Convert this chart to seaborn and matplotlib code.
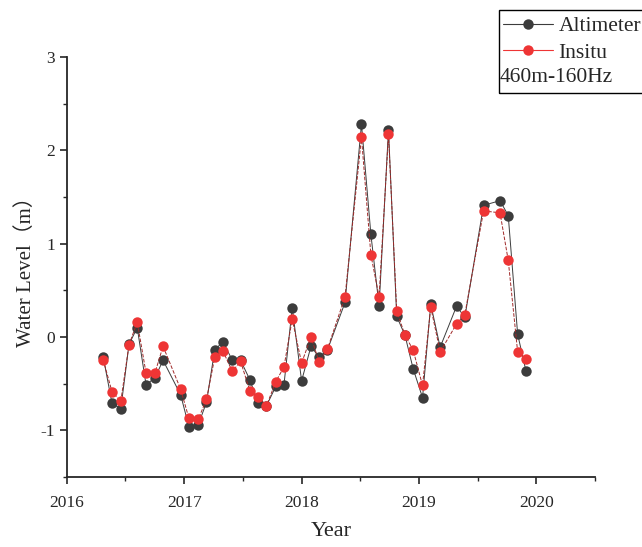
import pandas as pd
import matplotlib.pyplot as plt
import seaborn as sns
from matplotlib.lines import Line2D
from matplotlib.patches import Rectangle
from matplotlib.ticker import MultipleLocator

# decimal year of each pass
years = [2016.31, 2016.385, 2016.46, 2016.53, 2016.60, 2016.675, 2016.75, 2016.82,
         2016.97, 2017.04, 2017.12, 2017.19, 2017.26, 2017.33, 2017.41, 2017.48,
         2017.56, 2017.63, 2017.70, 2017.78, 2017.85, 2017.92, 2018.00, 2018.08,
         2018.15, 2018.22, 2018.37, 2018.51, 2018.59, 2018.66, 2018.74, 2018.81,
         2018.88, 2018.95, 2019.03, 2019.10, 2019.18, 2019.32, 2019.39, 2019.55,
         2019.69, 2019.76, 2019.84, 2019.91]
altimeter = [-0.21, -0.71, -0.77, -0.08, 0.10, -0.51, -0.44, -0.25,
             -0.62, -0.96, -0.94, -0.70, -0.14, -0.05, -0.25, -0.25,
             -0.46, -0.71, -0.74, -0.53, -0.51, 0.31, -0.47, -0.10,
             -0.22, -0.14, 0.37, 2.28, 1.10, 0.33, 2.22, 0.22,
             0.02, -0.34, -0.65, 0.35, -0.11, 0.33, 0.21, 1.41,
             1.46, 1.30, 0.03, -0.36]
insitu = [-0.245, -0.585, -0.69, -0.085, 0.16, -0.385, -0.39, -0.10,
          -0.56, -0.87, -0.88, -0.67, -0.22, -0.15, -0.37, -0.26,
          -0.58, -0.64, -0.74, -0.48, -0.32, 0.19, -0.28, 0.0,
          -0.27, -0.13, 0.43, 2.14, 0.88, 0.43, 2.17, 0.28,
          0.02, -0.14, -0.52, 0.32, -0.16, 0.14, 0.24, 1.35,
          1.33, 0.82, -0.16, -0.24]

df = pd.DataFrame({"Year": years, "Altimeter": altimeter, "Insitu": insitu})

sns.set_style("ticks")
plt.rcParams["font.family"] = ["Liberation Serif", "Noto Sans CJK SC"]
plt.rcParams["axes.unicode_minus"] = False

fig = plt.figure(figsize=(6.42, 5.47), dpi=100)
ax = fig.add_axes([0.104, 0.128, 0.823, 0.768])

black = "#3c3c3c"
red = "#ee3535"
sns.lineplot(data=df, x="Year", y="Altimeter", ax=ax, color=black, lw=0.7,
             marker="o", markersize=7.5, markeredgewidth=0, zorder=2)
sns.lineplot(data=df, x="Year", y="Insitu", ax=ax, color="#a02828", lw=0.7,
             linestyle="--", marker="o", markersize=7.5, markerfacecolor=red,
             markeredgewidth=0, zorder=3)

ax.set_xlim(2016, 2020.5)
ax.set_ylim(-1.5, 3)
ax.xaxis.set_major_locator(MultipleLocator(1))
ax.xaxis.set_minor_locator(MultipleLocator(0.5))
ax.yaxis.set_minor_locator(MultipleLocator(0.5))
ax.set_yticks([-1, 0, 1, 2, 3])
ax.tick_params(which="major", length=5, width=1.2, labelsize=12.5, direction="out")
ax.tick_params(axis="x", which="major", pad=8)
ax.tick_params(which="minor", length=3, width=1.0, direction="out")
for s in ["left", "bottom"]:
    ax.spines[s].set_linewidth(1.3)
sns.despine(ax=ax)
ax.set_xlabel("Year", fontsize=16, labelpad=8)
ax.set_ylabel("Water Level（m）", fontsize=15, labelpad=3)

handles = [Line2D([], [], color=black, lw=0.8, marker="o", markersize=7.5, markeredgewidth=0),
           Line2D([], [], color=red, lw=0.8, marker="o", markersize=7.5, markeredgewidth=0)]
fig.legend(handles, ["Altimeter", "Insitu"], loc="upper left",
           bbox_to_anchor=(503 / 642, 1 - 16 / 547), frameon=False, fontsize=15.5,
           handlelength=2.3, handletextpad=0.28, labelspacing=0.32,
           borderpad=0, borderaxespad=0)
fig.patches.append(Rectangle((499 / 642, 1 - 93 / 547), 160 / 642, 83 / 547,
                             transform=fig.transFigure, fill=False,
                             edgecolor="black", lw=1.0))
fig.text(500 / 642, 1 - 78 / 547, "460m-160Hz", fontsize=15.5, va="center")

fig.savefig("out.png", dpi=100)
